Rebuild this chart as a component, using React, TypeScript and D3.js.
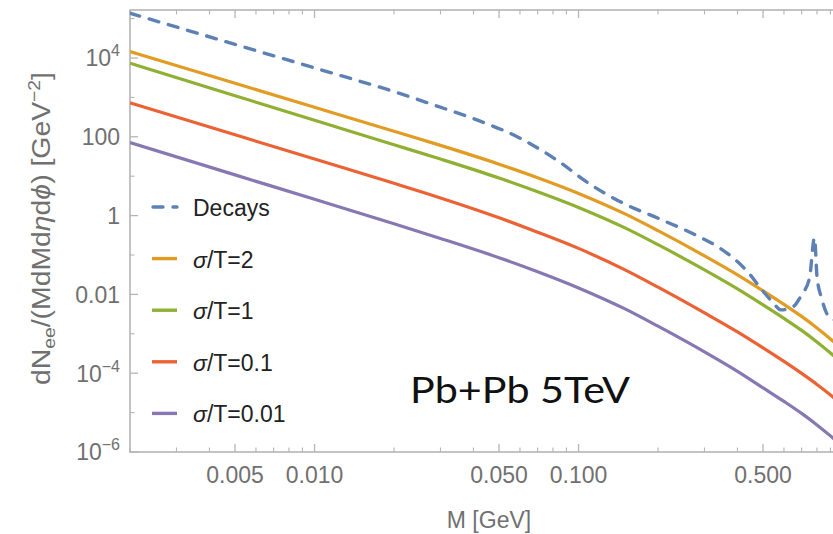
import React from "react";
import * as d3 from "d3";

// ---- data ----
const massGrid = [0.002, 0.005, 0.01, 0.02, 0.03, 0.05, 0.07, 0.1, 0.15, 0.2, 0.3, 0.4, 0.5, 0.6, 0.7, 0.8, 0.9, 1.0];
const sigmaT2 = [14530, 2280, 561, 138, 60.5, 20.2, 9.16, 3.66, 1.104, 0.414, 0.0949, 0.03126, 0.01227, 0.005574, 0.002764, 0.001411, 0.000742, 0.000402];
const sigmaT1 = [7380, 1105, 262, 62.7, 27.2, 9.0, 4.04, 1.615, 0.4874, 0.1826, 0.04184, 0.01379, 0.005415, 0.00246, 0.00122, 0.000623, 0.000327, 0.000177];
const sigmaT01 = [725, 112.4, 27.3, 6.6, 2.813, 0.8846, 0.3791, 0.1471, 0.04184, 0.01523, 0.003393, 0.001117, 0.000439, 0.0001993, 9.88e-5, 5.195e-5, 2.812e-5, 1.523e-5];
const sigmaT001 = [71.3, 10.79, 2.593, 0.6192, 0.2638, 0.0854, 0.03768, 0.01462, 0.004285, 0.001559, 0.000347, 0.0001111, 4.234e-5, 1.924e-5, 9.54e-6, 4.873e-6, 2.562e-6, 1.387e-6];

const decayMass = [0.002, 0.005, 0.01, 0.021, 0.02975, 0.04217, 0.05976, 0.08254, 0.1101, 0.1468, 0.2026, 0.2824, 0.342, 0.3968, 0.4444, 0.485, 0.5383, 0.5874, 0.6409, 0.6994, 0.7499, 0.783, 0.8006, 0.8326, 0.8775, 0.9326];
const decayValues = [1.371e5, 2.213e4, 5610, 1263, 574, 253, 93.8, 25.9, 6.38, 2.101, 0.8245, 0.3053, 0.1514, 0.07085, 0.03314, 0.0155, 0.00684, 0.004043, 0.004545, 0.00971, 0.02623, 0.2716, 0.0278, 0.00815, 0.003018, 0.002253];

const seriesNames = ["σ/T=2", "σ/T=1", "σ/T=0.1", "σ/T=0.01"];
const seriesColors = ["#E19C24", "#8FB032", "#EB6235", "#8778B3"];
const decayColor = "#5E81B5";

const xMajorTicks = [0.005, 0.01, 0.05, 0.1, 0.5];
const xMajorLabels = ["0.005", "0.010", "0.050", "0.100", "0.500"];
const yMajorTicks = [1e4, 100, 1, 0.01, 1e-4, 1e-6];
const yLabelBase = ["10", "100", "1", "0.01", "10", "10"];
const yLabelSup = ["4", "", "", "", "−4", "−6"];
const yMinorTicks = [1e5, 1000, 10, 0.1, 1e-3, 1e-5];

// ---- layout ----
const W = 833;
const H = 534;
const left = 130;
const top = 10;
const bottom = 452;
const decadeX = 264;
const decadeY = 39.4;

export default function App() {
  const xMin = 0.002;
  const xMax = 1.04;
  const yMin = 1e-6;
  const yMax = 1.7e5;
  const right = left + decadeX * Math.log10(xMax / xMin);
  const x = d3.scaleLog().domain([xMin, xMax]).range([left, right]);
  const y = d3.scaleLog().domain([yMin, yMax]).range([bottom, bottom - decadeY * Math.log10(yMax / yMin)]);

  const line = d3
    .line<[number, number]>()
    .x((d) => x(d[0]))
    .y((d) => y(d[1]))
    .curve(d3.curveMonotoneX);

  const seriesData = [sigmaT2, sigmaT1, sigmaT01, sigmaT001].map((vals) =>
    massGrid.map((m, i) => [m, vals[i]] as [number, number])
  );
  const decayData = decayMass.map((m, i) => [m, decayValues[i]] as [number, number]);

  const xMinor: number[] = [];
  for (let e = -3; e <= 0; e++) {
    for (let k = 1; k <= 9; k++) {
      const v = k * Math.pow(10, e);
      if (v >= xMin * 0.999 && v <= xMax && !xMajorTicks.some((t) => Math.abs(t - v) / v < 1e-6)) xMinor.push(v);
    }
  }

  const axisColor = "#b5b5b5";
  const labelColor = "#707070";
  const font = "'Liberation Sans', Arial, sans-serif";

  const legendY0 = 207;
  const legendStep = 51.6;

  return (
    <svg width={W} height={H} style={{ position: "absolute", left: 0, top: 0, background: "#fff" }}>
      <defs>
        <clipPath id="plotClip">
          <rect x={left} y={top} width={right - left} height={bottom - top} />
        </clipPath>
      </defs>
      <rect x={0} y={0} width={W} height={H} fill="#fff" />

      {/* frame */}
      <rect x={left} y={top} width={right - left} height={bottom - top} fill="none" stroke={axisColor} strokeWidth={1.6} />

      {/* x ticks */}
      {xMajorTicks.map((t) => (
        <g key={"xM" + t}>
          <line x1={x(t)} x2={x(t)} y1={bottom} y2={bottom - 8} stroke={axisColor} strokeWidth={1.3} />
          <line x1={x(t)} x2={x(t)} y1={top} y2={top + 8} stroke={axisColor} strokeWidth={1.3} />
        </g>
      ))}
      {xMinor.map((t) => (
        <g key={"xm" + t}>
          <line x1={x(t)} x2={x(t)} y1={bottom} y2={bottom - 4.5} stroke={axisColor} strokeWidth={1.1} />
          <line x1={x(t)} x2={x(t)} y1={top} y2={top + 4.5} stroke={axisColor} strokeWidth={1.1} />
        </g>
      ))}
      {xMajorTicks.map((t, i) => (
        <text key={"xl" + t} x={x(t)} y={483} textAnchor="middle" fontFamily={font} fontSize={23} fill={labelColor}>
          {xMajorLabels[i]}
        </text>
      ))}

      {/* y ticks */}
      {yMajorTicks.map((t) => (
        <line key={"yM" + t} x1={left} x2={left + 8} y1={y(t)} y2={y(t)} stroke={axisColor} strokeWidth={1.3} />
      ))}
      {yMinorTicks.map((t) => (
        <line key={"ym" + t} x1={left} x2={left + 4.5} y1={y(t)} y2={y(t)} stroke={axisColor} strokeWidth={1.1} />
      ))}
      {yMajorTicks.map((t, i) => (
        <text key={"yl" + t} x={120} y={y(t) + 8.3} textAnchor="end" fontFamily={font} fontSize={23} fill={labelColor}>
          {yLabelBase[i]}
          {yLabelSup[i] && (
            <tspan dy={-10} fontSize={16}>
              {yLabelSup[i]}
            </tspan>
          )}
        </text>
      ))}

      {/* curves */}
      <g clipPath="url(#plotClip)">
        {seriesData.map((d, i) => (
          <path key={seriesNames[i]} d={line(d) || ""} fill="none" stroke={seriesColors[i]} strokeWidth={3.2} />
        ))}
        <path d={line(decayData) || ""} fill="none" stroke={decayColor} strokeWidth={3.4} strokeDasharray="10 10" strokeLinecap="round" />
      </g>

      {/* legend */}
      <line x1={153} x2={177} y1={legendY0} y2={legendY0} stroke={decayColor} strokeWidth={3.4} strokeDasharray="10 10" strokeLinecap="round" />
      <text x={193} y={legendY0 + 9} fontFamily={font} fontSize={23} fill="#222">Decays</text>
      {seriesNames.map((name, i) => {
        const ly = legendY0 + legendStep * (i + 1);
        return (
          <g key={"lg" + name}>
            <line x1={152} x2={177} y1={ly} y2={ly} stroke={seriesColors[i]} strokeWidth={3.4} />
            <text x={193} y={ly + 9} fontFamily={font} fontSize={23} fill="#222">
              <tspan fontStyle="italic">σ</tspan>
              {name.slice(1)}
            </text>
          </g>
        );
      })}

      {/* annotation */}
      <text x={410} y={403} fontFamily="Lato, 'Open Sans', sans-serif" fontSize={37} fill="#111" textLength={220} lengthAdjust="spacingAndGlyphs">
        Pb+Pb 5TeV
      </text>

      {/* axis labels */}
      <text x={489} y={528} textAnchor="middle" fontFamily={font} fontSize={23} fill={labelColor}>
        M [GeV]
      </text>
      <text
        transform="translate(50,228.5) rotate(-90)"
        textAnchor="middle"
        fontFamily={font}
        fontSize={25}
        fill={labelColor}
        textLength={313}
        lengthAdjust="spacingAndGlyphs"
      >
        dN
        <tspan fontSize={17} dy={5}>ee</tspan>
        <tspan dy={-5}>/(MdMd</tspan>
        <tspan fontStyle="italic">η</tspan>
        d
        <tspan fontStyle="italic">ϕ</tspan>
        ) [GeV
        <tspan fontSize={17} dy={-10}>−2</tspan>
        <tspan dy={10}>]</tspan>
      </text>
    </svg>
  );
}
